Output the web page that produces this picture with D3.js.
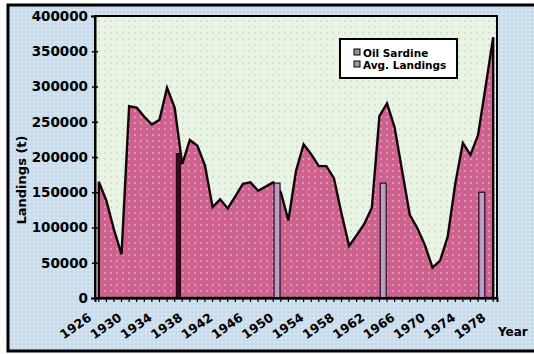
<!DOCTYPE html>
<html>
<head>
<meta charset="utf-8">
<script src="https://cdn.jsdelivr.net/npm/d3@7"></script>
<style>
  html, body { margin: 0; padding: 0; background: #ffffff; }
  svg { display: block; }
</style>
</head>
<body>
<svg id="chart" width="534" height="354"></svg>
<script>
// Annual landings, one value per year
const years = d3.range(1926, 1979);
const sardineLandings = [
  165000, 138000, 97000, 62000, 272000, 270000, 257000, 246000, 253000, 298000,
  270000, 190000, 224000, 216000, 188000, 129000, 140000, 127000, 144000, 162000,
  164000, 152000, 158000, 164000, 150000, 110000, 180000, 218000, 204000, 187000,
  187000, 170000, 120000, 74000, 89000, 105000, 128000, 258000, 276000, 242000,
  180000, 118000, 99000, 75000, 43000, 53000, 87000, 162000, 220000, 203000,
  231000, 300000, 370000
];
// Period averages, shown as thin columns at the start of the year
const avgYears = [1937, 1950, 1964, 1977];
const avgLandings = [205000, 163000, 163000, 150000];

const yTickValues = [0, 50000, 100000, 150000, 200000, 250000, 300000, 350000, 400000];
const xLabelYears = years.filter((d, i) => i % 4 === 0);
const seriesNames = ["Oil Sardine", "Avg. Landings"];

const svg = d3.select("#chart");
const W = 534, H = 354;
const plot = { left: 95, right: 497, top: 16, bottom: 298 };
const FONT = "DejaVu Sans, sans-serif";

// textures
const defs = svg.append("defs");
function dotPattern(id, size, bg, dot, r) {
  const p = defs.append("pattern").attr("id", id).attr("patternUnits", "userSpaceOnUse")
    .attr("width", size).attr("height", size);
  p.append("rect").attr("width", size).attr("height", size).attr("fill", bg);
  p.append("circle").attr("cx", size / 2).attr("cy", size / 2).attr("r", r).attr("fill", dot);
}
dotPattern("outerTex", 4, "#c9dcec", "#e4eef7", 0.9);
dotPattern("plotTex", 6, "#eaf4e4", "#b9c2b4", 0.7);
dotPattern("areaTex", 6, "#cd628f", "#e9a9c3", 0.9);
dotPattern("barTex", 4, "#b59ac4", "#d2c0dc", 0.7);

// outer panel
svg.append("rect").attr("x", 0).attr("y", 0).attr("width", W).attr("height", H).attr("fill", "#ffffff");
svg.append("rect").attr("x", 8).attr("y", 5).attr("width", 532).attr("height", 346)
  .attr("fill", "url(#outerTex)").attr("stroke", "#000").attr("stroke-width", 3);

// plot background
svg.append("rect").attr("x", plot.left).attr("y", plot.top)
  .attr("width", plot.right - plot.left).attr("height", plot.bottom - plot.top)
  .attr("fill", "url(#plotTex)");

const x = d3.scaleBand().domain(years).range([plot.left, plot.right]).padding(0);
const y = d3.scaleLinear().domain([0, 400000]).range([plot.bottom, plot.top]);
const cx = d => x(d) + x.bandwidth() / 2;

// landings area
const area = d3.area()
  .x((d, i) => cx(years[i]))
  .y0(y(0))
  .y1(d => y(d));
svg.append("path").datum(sardineLandings)
  .attr("d", area)
  .attr("fill", "url(#areaTex)")
  .attr("stroke", "#12040a").attr("stroke-width", 2.4).attr("stroke-linejoin", "miter");

// average columns
svg.selectAll("rect.avg").data(avgYears).join("rect")
  .attr("class", "avg")
  .attr("x", (d, i) => x(d) - (i === 0 ? 2 : 3))
  .attr("y", (d, i) => y(avgLandings[i]))
  .attr("width", (d, i) => i === 0 ? 4 : 6)
  .attr("height", (d, i) => y(0) - y(avgLandings[i]))
  .attr("fill", (d, i) => i === 0 ? "#3a0a1c" : "url(#barTex)")
  .attr("stroke", "#2a0818").attr("stroke-width", 1.2);

// plot frame
svg.append("rect").attr("x", plot.left).attr("y", plot.top)
  .attr("width", plot.right - plot.left).attr("height", plot.bottom - plot.top)
  .attr("fill", "none").attr("stroke", "#000").attr("stroke-width", 2);

// y axis
const yAxis = d3.axisLeft(y).tickValues(yTickValues).tickSize(4).tickFormat(d3.format("d"));
const gy = svg.append("g").attr("transform", `translate(${plot.left},0)`).call(yAxis);
gy.select(".domain").attr("stroke", "#000").attr("stroke-width", 2);
gy.selectAll(".tick line").attr("stroke", "#000").attr("stroke-width", 1.5).attr("x2", 3).attr("x1", -3);
gy.selectAll(".tick text")
  .attr("x", -7)
  .attr("font-family", FONT).attr("font-weight", "bold")
  .attr("font-size", 13.5).attr("fill", "#000");

// x axis
const xAxis = d3.axisBottom(x).tickSize(4).tickFormat(d => xLabelYears.includes(d) ? d : "");
const gx = svg.append("g").attr("transform", `translate(0,${plot.bottom})`).call(xAxis);
gx.select(".domain").attr("stroke", "#000").attr("stroke-width", 2);
gx.selectAll(".tick line").attr("stroke", "#000").attr("stroke-width", 1.2);
gx.selectAll(".tick text")
  .attr("font-family", FONT).attr("font-weight", "bold")
  .attr("font-size", 12.5).attr("fill", "#000")
  .attr("text-anchor", "end")
  .attr("x", 0).attr("y", 0).attr("dy", "0.35em")
  .attr("transform", "translate(-9,18) rotate(-35)");

// axis titles
svg.append("text")
  .attr("transform", "translate(26,180) rotate(-90)")
  .attr("text-anchor", "middle")
  .attr("font-family", FONT).attr("font-weight", "bold")
  .attr("font-size", 13).attr("fill", "#000")
  .text("Landings (t)");
svg.append("text")
  .attr("x", 498).attr("y", 336)
  .attr("font-family", FONT).attr("font-weight", "bold")
  .attr("font-size", 12).attr("fill", "#000")
  .text("Year");

// legend
const lg = svg.append("g").attr("transform", "translate(340,39)");
lg.append("rect").attr("width", 117).attr("height", 39)
  .attr("fill", "#ffffff").attr("stroke", "#000").attr("stroke-width", 2);
const swatch = ["#a08a98", "#9c98b4"];
seriesNames.forEach((name, i) => {
  lg.append("rect").attr("x", 14).attr("y", 10 + i * 12).attr("width", 6).attr("height", 6)
    .attr("fill", swatch[i]).attr("stroke", "#000").attr("stroke-width", 1);
  lg.append("text").attr("x", 23).attr("y", 17.5 + i * 12)
    .attr("font-family", FONT).attr("font-weight", "bold")
    .attr("font-size", 10.5).attr("fill", "#000")
    .text(name);
});
</script>
</body>
</html>
